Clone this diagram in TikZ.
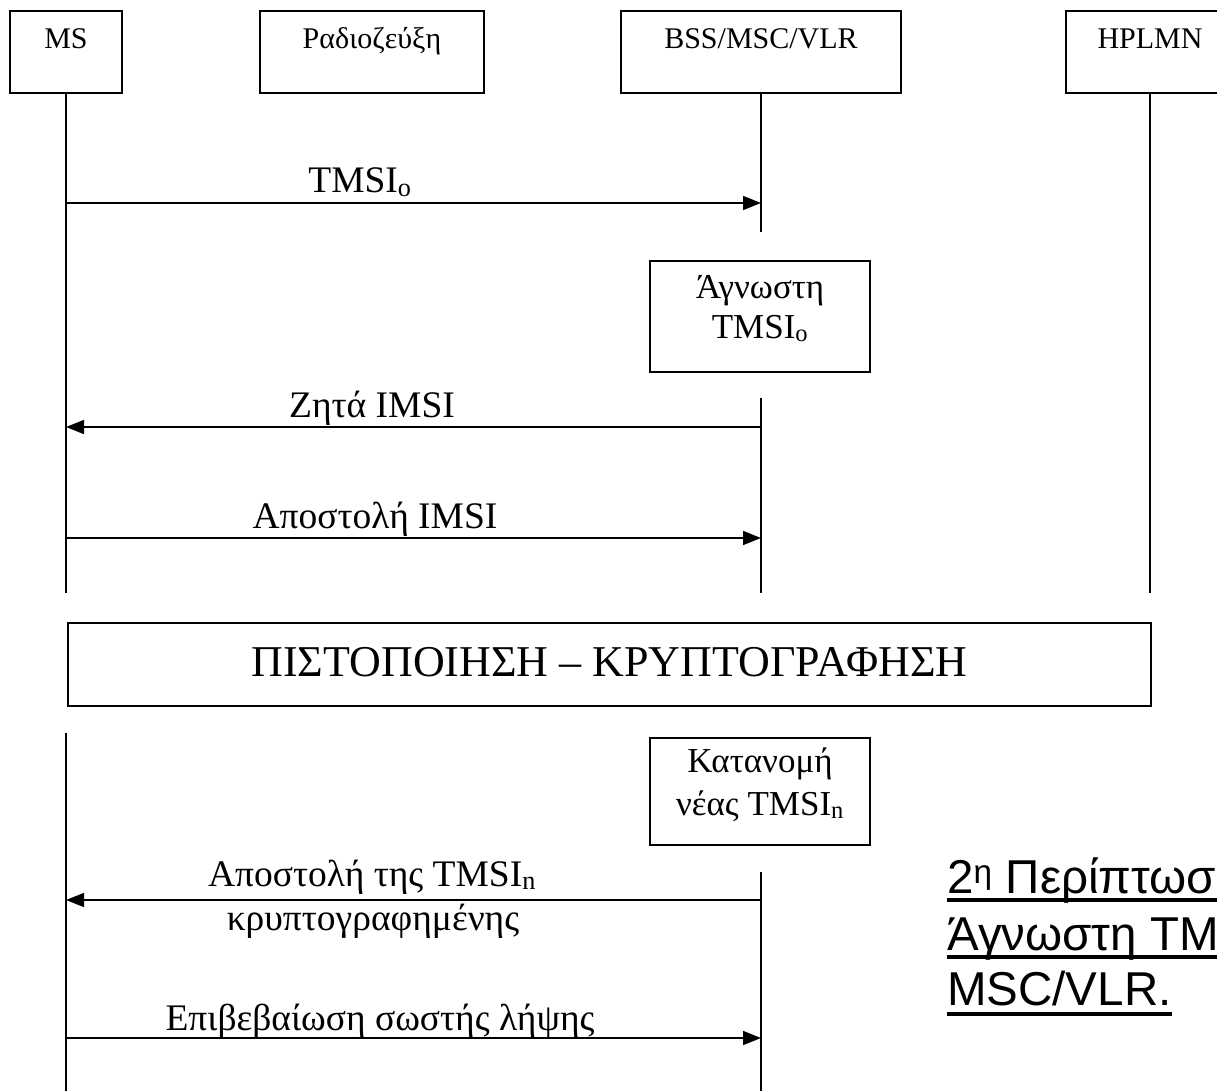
\documentclass[tikz,border=0pt]{standalone}
\usepackage{fontspec}
\setmainfont{Liberation Serif}
\newfontfamily\capfont{Liberation Sans}
\usetikzlibrary{arrows.meta}

\begin{document}
\begin{tikzpicture}[x=1pt,y=-1pt,
  box/.style={draw, line width=2pt, inner sep=0pt},
  life/.style={line width=1.6pt},
  msg/.style={line width=1.6pt, -{Triangle[length=18pt,width=14pt]}},
  hdr/.style={box, font=\fontsize{30}{36}\selectfont, text height=38pt,
              text depth=44pt, anchor=north},
  lbl/.style={font=\fontsize{37.5}{44}\selectfont, inner sep=0pt, anchor=base},
  btxt/.style={font=\fontsize{35}{41}\selectfont, inner sep=0pt, anchor=base},
  captxt/.style={font=\capfont\fontsize{47.5}{55}\selectfont, inner sep=0pt, anchor=base west},
  uline/.style={line width=3.5pt}
]
\useasboundingbox (0,0) rectangle (1217,1091);
\clip (0,0) rectangle (1217,1091);

% entities
\node[hdr, minimum width=112pt] (ms)    at (66,10)   {MS};
\node[hdr, minimum width=224pt] (radio) at (372,10)  {Ραδιοζεύξη};
\node[hdr, minimum width=280pt] (bss)   at (761,10)  {BSS/MSC/VLR};
\node[hdr, minimum width=168pt] (hpl)   at (1150,10) {HPLMN};

% lifeline ends
\coordinate (msA)  at (ms.south |- 0,593);
\coordinate (msB)  at (ms.south |- 0,733);
\coordinate (msC)  at (ms.south |- 0,1091);
\coordinate (bssA) at (bss.south |- 0,232);
\coordinate (bssB) at (bss.south |- 0,398);
\coordinate (bssC) at (bss.south |- 0,593);
\coordinate (bssD) at (bss.south |- 0,872);
\coordinate (bssE) at (bss.south |- 0,1091);
\coordinate (hplA) at (hpl.south |- 0,593);

\draw[life] (ms.south) -- (msA);
\draw[life] (msB) -- (msC);
\draw[life] (bss.south) -- (bssA);
\draw[life] (bssB) -- (bssC);
\draw[life] (bssD) -- (bssE);
\draw[life] (hpl.south) -- (hplA);

% message end points
\coordinate (m1a) at (ms.south |- 0,203);
\coordinate (m1b) at (bss.south |- 0,203);
\coordinate (m2a) at (bss.south |- 0,427);
\coordinate (m2b) at (ms.south |- 0,427);
\coordinate (m3a) at (ms.south |- 0,538);
\coordinate (m3b) at (bss.south |- 0,538);
\coordinate (m4a) at (bss.south |- 0,900);
\coordinate (m4b) at (ms.south |- 0,900);
\coordinate (m5a) at (ms.south |- 0,1038);
\coordinate (m5b) at (bss.south |- 0,1038);

\draw[msg] (m1a) -- (m1b);
\draw[msg] (m2a) -- (m2b);
\draw[msg] (m3a) -- (m3b);
\draw[msg] (m4a) -- (m4b);
\draw[msg] (m5a) -- (m5b);

% message labels
\node[lbl] (l1)  at (360,193)  {TMSI\textsubscript{o}};
\node[lbl] (l2)  at (372,417)  {Ζητά IMSI};
\node[lbl] (l3)  at (375,528)  {Αποστολή IMSI};
\node[lbl] (l4)  at (372,886)  {Αποστολή της TMSI\textsubscript{n}};
\node[lbl] (l4b) at (373,930)  {κρυπτογραφημένης};
\node[lbl] (l5)  at (380,1030) {Επιβεβαίωση σωστής λήψης};

% local actions at the MSC/VLR
\node[box, minimum width=220pt, minimum height=111pt, anchor=north] (unk) at (760,260) {};
\node[btxt] (unk1) at (760,298) {Άγνωστη};
\node[btxt] (unk2) at (760,338) {TMSI\textsubscript{o}};

\node[box, minimum width=220pt, minimum height=107pt, anchor=north] (alloc) at (760,737) {};
\node[btxt] (alloc1) at (760,772) {Κατανομή};
\node[btxt] (alloc2) at (760,815) {νέας TMSI\textsubscript{n}};

% common phase
\node[box, font=\fontsize{44}{52}\selectfont, minimum width=1083pt,
      text height=53pt, text depth=30pt, anchor=north west] (auth) at (67,622)
      {ΠΙΣΤΟΠΟΙΗΣΗ – ΚΡΥΠΤΟΓΡΑΦΗΣΗ};

% caption
\node[captxt] (c1) at (947,893)  {2\textsuperscript{η} Περίπτωσ};
\node[captxt] (c2) at (947,950)  {Άγνωστη TM};
\node[captxt] (c3) at (947,1005) {MSC/VLR.};
\draw[uline] (c1.base west |- 0,900)  -- (1217,900);
\draw[uline] (c2.base west |- 0,957)  -- (1217,957);
\draw[uline] (c3.base west |- 0,1014) -- (c3.base east |- 0,1014);
\end{tikzpicture}
\end{document}
